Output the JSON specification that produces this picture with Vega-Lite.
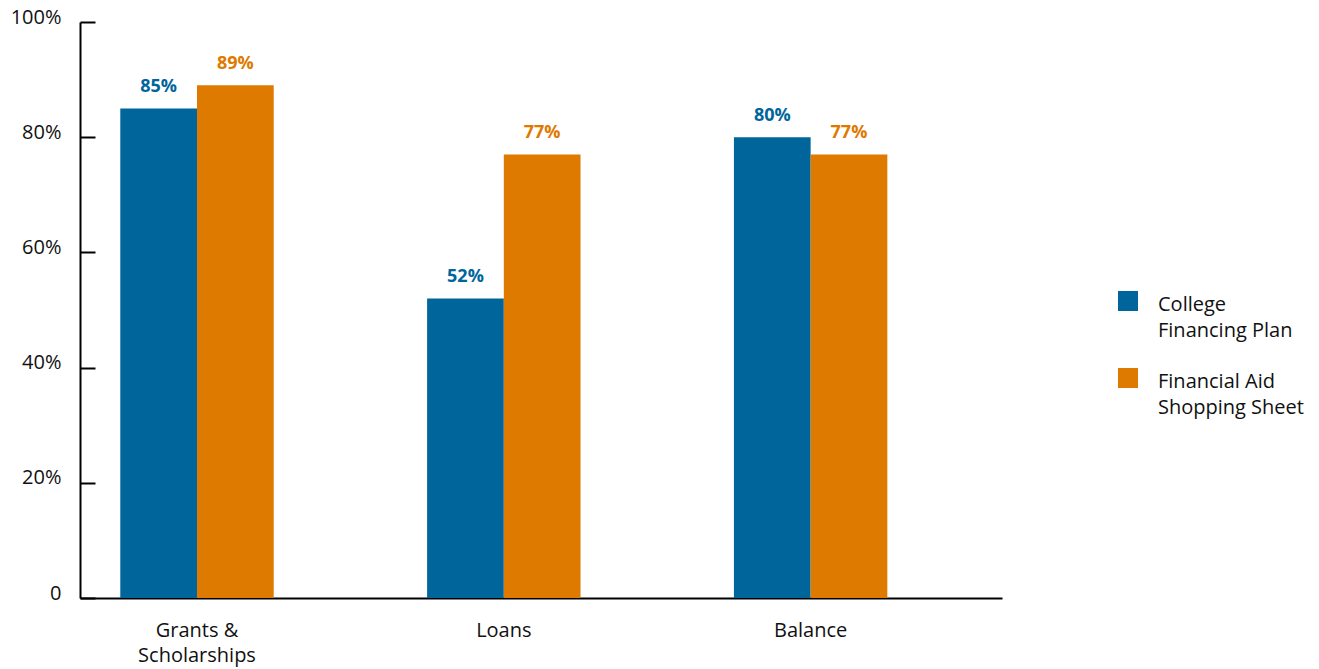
{
  "$schema": "https://vega.github.io/schema/vega-lite/v6.json",
  "width": 922,
  "height": 576,
  "autosize": "none",
  "padding": {"left": 80, "top": 22, "right": 317, "bottom": 71},
  "background": "white",
  "config": {
    "view": {"stroke": null},
    "font": "Open Sans",
    "style": {"guide-label": {"lineHeight": 26}}
  },
  "data": {
    "values": [
      {"category": "Grants & Scholarships", "series": "College Financing Plan", "value": 85, "label": "85%"},
      {"category": "Grants & Scholarships", "series": "Financial Aid Shopping Sheet", "value": 89, "label": "89%"},
      {"category": "Loans", "series": "College Financing Plan", "value": 52, "label": "52%"},
      {"category": "Loans", "series": "Financial Aid Shopping Sheet", "value": 77, "label": "77%"},
      {"category": "Balance", "series": "College Financing Plan", "value": 80, "label": "80%"},
      {"category": "Balance", "series": "Financial Aid Shopping Sheet", "value": 77, "label": "77%"}
    ]
  },
  "encoding": {
    "x": {
      "field": "category",
      "type": "nominal",
      "sort": ["Grants & Scholarships", "Loans", "Balance"],
      "scale": {"paddingInner": 0.5, "paddingOuter": 0.2525, "align": 0.26},
      "axis": {
        "title": null,
        "labelAngle": 0,
        "ticks": false,
        "domainColor": "#000000",
        "domainWidth": 2,
        "labelFontSize": 20,
        "labelColor": "#111111",
        "labelPadding": 22,
        "labelLineHeight": 25,
        "labelExpr": "datum.label == 'Grants & Scholarships' ? ['Grants &', 'Scholarships'] : datum.label"
      }
    },
    "xOffset": {"field": "series", "type": "nominal"},
    "y": {
      "field": "value",
      "type": "quantitative",
      "scale": {"domain": [0, 100], "nice": false},
      "axis": {
        "title": null,
        "values": [0, 20, 40, 60, 80, 100],
        "grid": false,
        "domainColor": "#000000",
        "domainWidth": 2,
        "tickColor": "#000000",
        "tickWidth": 2,
        "tickSize": -15,
        "labelPadding": 34,
        "labelFontSize": 20,
        "labelColor": "#111111",
        "labelBaseline": "alphabetic",
        "labelOffset": 1,
        "labelExpr": "datum.value == 0 ? '0' : datum.value + '%'"
      }
    },
    "color": {
      "field": "series",
      "type": "nominal",
      "scale": {"range": ["#00659B", "#DE7A00"]},
      "legend": {
        "title": null,
        "orient": "none",
        "legendX": 1038,
        "legendY": 269,
        "padding": 0,
        "symbolType": "square",
        "symbolSize": 400,
        "symbolStrokeWidth": 0,
        "symbolOpacity": 1,
        "labelFontSize": 20,
        "labelColor": "#111111",
        "labelOffset": 20,
        "labelBaseline": "top",
        "rowPadding": 27,
        "labelExpr": "datum.label == 'College Financing Plan' ? ['College', 'Financing Plan'] : ['Financial Aid', 'Shopping Sheet']",
        "encode": {"labels": {"update": {"dy": {"value": -6}}}}
      }
    }
  },
  "layer": [
    {"mark": {"type": "bar"}},
    {
      "mark": {"type": "text", "baseline": "alphabetic", "dy": -16, "fontSize": 18, "fontWeight": "bold"},
      "encoding": {
        "text": {"field": "label", "type": "nominal"}
      }
    }
  ]
}
